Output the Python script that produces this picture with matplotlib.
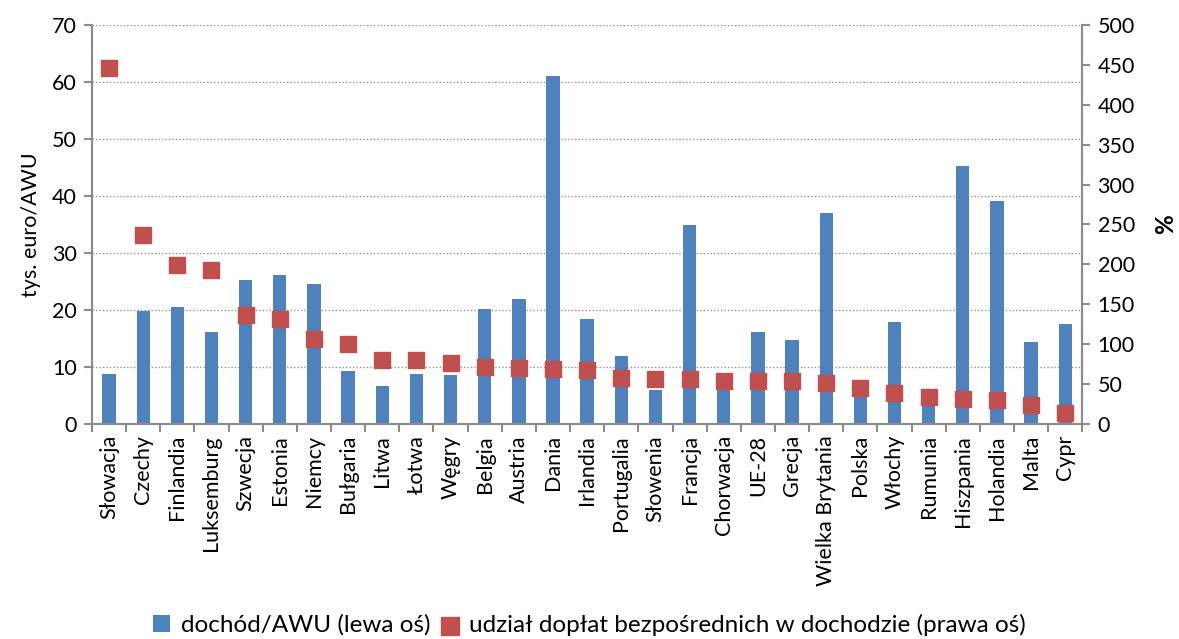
import matplotlib.pyplot as plt
import numpy as np

plt.rcParams['font.family'] = ['Lato', 'DejaVu Sans']

countries = ['Słowacja', 'Czechy', 'Finlandia', 'Luksemburg', 'Szwecja', 'Estonia',
             'Niemcy', 'Bułgaria', 'Litwa', 'Łotwa', 'Węgry', 'Belgia', 'Austria',
             'Dania', 'Irlandia', 'Portugalia', 'Słowenia', 'Francja', 'Chorwacja',
             'UE-28', 'Grecja', 'Wielka Brytania', 'Polska', 'Włochy', 'Rumunia',
             'Hiszpania', 'Holandia', 'Malta', 'Cypr']
income = [8.8, 19.9, 20.5, 16.1, 25.3, 26.1, 24.6, 9.3, 6.7, 8.8, 8.6, 20.1, 21.9,
          61.1, 18.4, 11.9, 6.0, 34.9, 7.5, 16.1, 14.7, 37.0, 5.9, 17.9, 4.6,
          45.3, 39.1, 14.3, 17.5]
share = [446, 237, 199, 193, 137, 131, 106, 100, 80, 80, 77, 71, 70, 68.5, 68,
         57.6, 56.8, 56.8, 54.3, 54, 53.5, 51, 44.7, 38.4, 34.3, 31.8, 29.7,
         24.2, 13.4]

bar_color = '#4F81BD'
dot_color = '#C0504D'
axis_gray = '#8C8C8C'
fs = 15.5

fig = plt.figure(figsize=(11.79, 6.39), dpi=100)
ax = fig.add_axes([0.078, 0.3365, 0.84, 0.6245])
ax2 = ax.twinx()

x = np.arange(len(countries))
ax.bar(x, income, width=0.39, color=bar_color, zorder=2,
       label='dochód/AWU (lewa oś)')
ax2.scatter(x, share, marker='s', s=120, color=dot_color, zorder=3,
            label='udział dopłat bezpośrednich w dochodzie (prawa oś)')

ax.set_xlim(-0.5, len(countries) - 0.5)
ax.set_ylim(0, 70)
ax2.set_ylim(0, 500)
ax.set_yticks(range(0, 71, 10))
ax2.set_yticks(range(0, 501, 50))
ax.yaxis.grid(True, linestyle=(0, (1, 1.5)), color='#909090', linewidth=1.0, zorder=0)
ax.set_axisbelow(True)

ax.set_xticks(x)
ax.set_xticklabels(countries, rotation=90, fontsize=fs)
ax.set_xticks(np.arange(-0.5, len(countries)), minor=True)
ax.tick_params(axis='x', which='major', length=0, pad=8)
ax.tick_params(axis='x', which='minor', length=6, color=axis_gray, width=1.5,
               direction='out')
ax.tick_params(axis='y', labelsize=fs, length=6, color=axis_gray, width=1.5, pad=5)
ax2.tick_params(axis='y', labelsize=fs, length=6, color=axis_gray, width=1.5, pad=5)

for a in (ax, ax2):
    a.spines['top'].set_visible(False)
    for s in ('left', 'right', 'bottom'):
        a.spines[s].set_color(axis_gray)
        a.spines[s].set_linewidth(1.5)

ax.set_ylabel('tys. euro/AWU', fontsize=fs, labelpad=8)
ax2.set_ylabel('%', fontsize=fs + 2, fontweight='bold', labelpad=14)

h1, l1 = ax.get_legend_handles_labels()
h2, l2 = ax2.get_legend_handles_labels()
fig.legend(h1 + h2, l1 + l2, loc='center', bbox_to_anchor=(0.5, 0.022),
           ncol=2, frameon=False, fontsize=17.5, handlelength=0.7,
           handleheight=0.7, handletextpad=0.45, columnspacing=0.45,
           markerscale=1.15, borderpad=0)

fig.savefig('out.png', dpi=100)
